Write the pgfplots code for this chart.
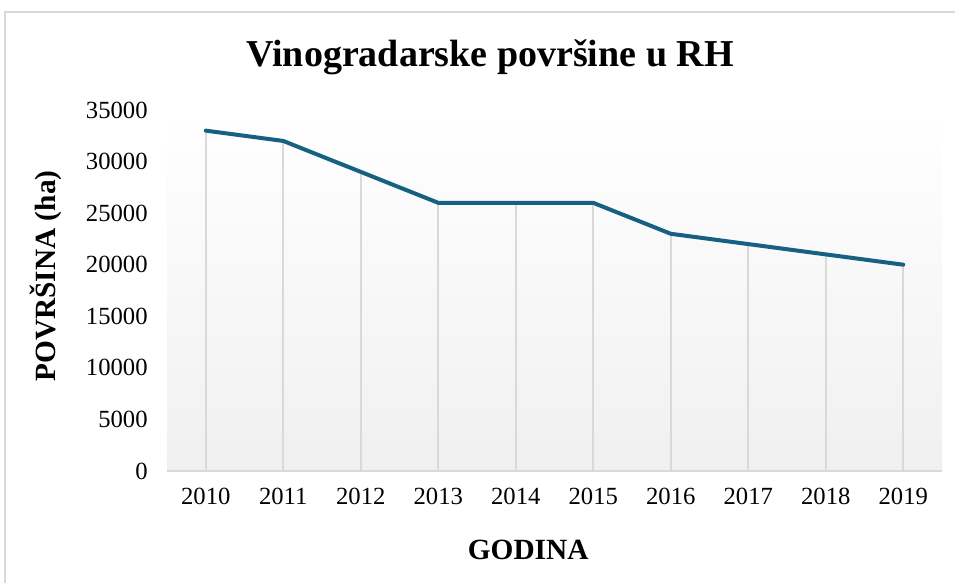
\documentclass[border=0pt]{standalone}
\usepackage{pgfplots}
\pgfplotsset{compat=1.18}
\usepackage{fontspec}
\setmainfont{Liberation Serif}
\definecolor{linec}{RGB}{22,96,130}
\definecolor{gridc}{RGB}{217,217,217}
\definecolor{bgbot}{RGB}{240,240,240}
\pgfplotstableread{
x y
0 33000
1 32000
2 29000
3 26000
4 26000
5 26000
6 23000
7 22000
8 21000
9 20000
}\datatable
\begin{document}
\begin{tikzpicture}[x=0.75pt,y=0.75pt]
\useasboundingbox (0,0) rectangle (955,582);
\draw[gridc, line width=0.9pt] (5,-20) rectangle (985,570);
\node[font=\fontsize{28.5}{30}\selectfont\bfseries, anchor=base] at (490,515) {Vinogradarske površine u RH};
\node[font=\fontsize{22}{24}\selectfont\bfseries, rotate=90, anchor=base] at (55,306) {POVRŠINA (ha)};
\begin{axis}[
  at={(125.25pt,83.25pt)}, anchor=south west,
  scale only axis, width=581.25pt, height=270.75pt,
  xmin=-0.5, xmax=9.5, ymin=0, ymax=35000,
  xtick={0,...,9}, xticklabels={2010,2011,2012,2013,2014,2015,2016,2017,2018,2019},
  ytick={0,5000,...,35000},
  scaled y ticks=false,
  /pgf/number format/.cd, 1000 sep={}, assume math mode=true, /pgfplots/.cd,
  axis line style={draw=none},
  major tick length=0pt,
  tick label style={font=\fontsize{18.5}{20}\selectfont},
  yticklabel style={anchor=east, xshift=-11pt},
  xticklabel style={anchor=north, yshift=-9pt},
  axis background/.style={shade, top color=white, bottom color=bgbot, draw=none},
  xlabel={GODINA},
  label style={font=\fontsize{22}{24}\selectfont\bfseries},
  xlabel style={at={(axis description cs:0.466,-0.219)}, anchor=center},
  clip=false,
]
\addplot[gridc, line width=1.3pt, ycomb, mark=none] table[x=x,y=y] {\datatable};
\draw[gridc, line width=1.3pt] (axis cs:-0.5,0) -- (axis cs:9.5,0);
\addplot[linec, line width=3pt, mark=none, line join=round, line cap=round] table[x=x,y=y] {\datatable};
\end{axis}
\end{tikzpicture}
\end{document}
